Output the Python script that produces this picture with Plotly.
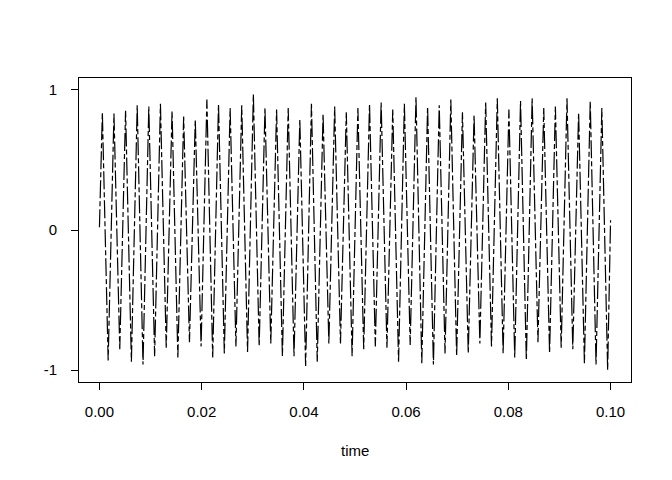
import plotly.graph_objects as go

# Signal: 440 Hz tone, 0.1 s long; per-cycle extreme values
freq_hz = 440
n_cycles = 44
start_value = 0.02
end_value = 0.07
peak_values = [0.84, 0.83, 0.85, 0.89, 0.88, 0.90, 0.85, 0.81, 0.79, 0.93,
               0.90, 0.87, 0.89, 0.97, 0.87, 0.86, 0.87, 0.79, 0.90, 0.83,
               0.88, 0.84, 0.87, 0.90, 0.91, 0.86, 0.90, 0.95, 0.88, 0.89,
               0.93, 0.84, 0.82, 0.91, 0.94, 0.86, 0.92, 0.94, 0.87, 0.88,
               0.94, 0.84, 0.92, 0.87]
trough_values = [-0.93, -0.85, -0.94, -0.96, -0.90, -0.84, -0.91, -0.80, -0.83, -0.91,
                 -0.88, -0.83, -0.87, -0.83, -0.81, -0.90, -0.90, -0.97, -0.94, -0.81,
                 -0.81, -0.90, -0.85, -0.83, -0.84, -0.94, -0.82, -0.95, -0.96, -0.88,
                 -0.90, -0.88, -0.81, -0.83, -0.88, -0.91, -0.93, -0.80, -0.88, -0.84,
                 -0.85, -0.95, -0.96, -1.00]
x_tick_vals = [0.00, 0.02, 0.04, 0.06, 0.08, 0.10]
x_tick_text = ["0.00", "0.02", "0.04", "0.06", "0.08", "0.10"]
y_tick_vals = [-1, 0, 1]
y_tick_text = ["-1", "0", "1"]

period = 1.0 / freq_hz
t = [0.0]
y = [start_value]
for i in range(n_cycles):
    t.append(i * period + period / 4)
    y.append(peak_values[i])
    t.append(i * period + 3 * period / 4)
    y.append(trough_values[i])
t.append(n_cycles * period)
y.append(end_value)

fig = go.Figure()
fig.add_trace(go.Scatter(
    x=t, y=y, mode="lines",
    line=dict(color="black", width=1.2, dash="18px,3px,5px,3px"),
    showlegend=False, hoverinfo="skip"))

font = dict(family="Liberation Sans, Arial, sans-serif", size=15, color="black")
# page body has an 8px margin, so the figure is drawn 8px in from the top-left
fig.update_layout(
    width=664, height=472,
    margin=dict(l=71, r=41, t=70, b=98),
    paper_bgcolor="white", plot_bgcolor="white",
    font=font,
    xaxis=dict(range=[-0.004, 0.104], tickvals=x_tick_vals, ticktext=x_tick_text,
               showgrid=False, zeroline=False, showline=True, mirror=True,
               linecolor="black", linewidth=1, ticks="outside", ticklen=7,
               tickcolor="black", tickwidth=1, ticklabelstandoff=9, tickfont=font),
    yaxis=dict(range=[-1.084, 1.084], tickvals=y_tick_vals, ticktext=y_tick_text,
               showgrid=False, zeroline=False, showline=True, mirror=True,
               linecolor="black", linewidth=1, ticks="outside", ticklen=7,
               tickcolor="black", tickwidth=1, ticklabelstandoff=11, tickfont=font),
    annotations=[dict(text="time", xref="paper", yref="paper", x=0.5, y=-0.224,
                      xanchor="center", yanchor="middle", showarrow=False, font=font)],
)
fig.write_html("out.html")
